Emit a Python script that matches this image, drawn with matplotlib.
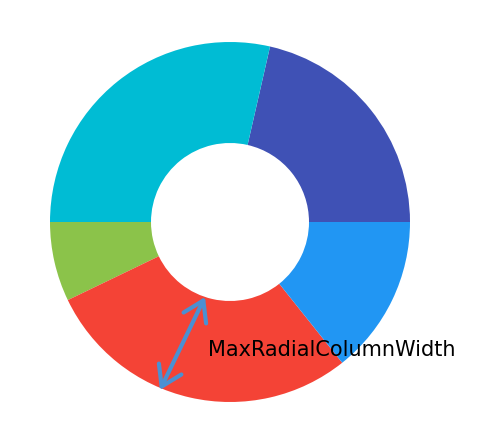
import matplotlib.pyplot as plt

values = [30, 40, 10, 40, 20]
colors = ['#3F51B5', '#00BCD4', '#8BC34A', '#F44336', '#2196F3']
label = "MaxRadialColumnWidth"

fig = plt.figure(figsize=(4.97, 4.34), dpi=100)
ax = fig.add_axes([0, 0, 1, 1])

# donut, pixel-ish coordinates (y up)
ax.pie(values, colors=colors, startangle=0, counterclock=True,
       radius=180, center=(230, 212),
       wedgeprops=dict(width=101, linewidth=0))

# radial width arrow
ax.annotate('', xy=(205, 137), xytext=(160, 44),
            arrowprops=dict(arrowstyle='<->,head_length=0.7,head_width=0.45',
                            color='#4A90D2', lw=3, mutation_scale=20,
                            shrinkA=0, shrinkB=0))
ax.text(208, 84, label, fontsize=15, ha='left', va='center', color='black')

ax.set_xlim(0, 497)
ax.set_ylim(0, 434)
ax.set_aspect('equal')
ax.axis('off')

fig.savefig('out.png', dpi=100)
